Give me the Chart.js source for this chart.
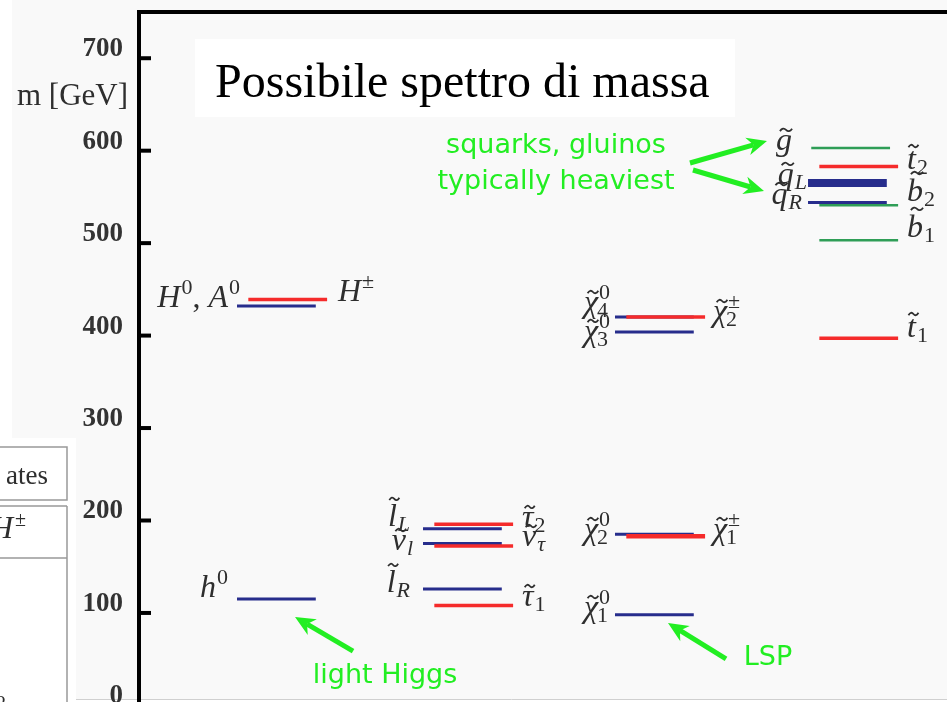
<!DOCTYPE html>
<html>
<head>
<meta charset="utf-8">
<script src="https://cdn.jsdelivr.net/npm/chart.js@4.4.1/dist/chart.umd.min.js"></script>
<style>
  html, body { margin: 0; padding: 0; overflow: hidden; background: #fff; }
  #wrap { width: 947px; height: 720px; }
</style>
</head>
<body>
<div id="wrap"><canvas id="spectrum" width="947" height="720"></canvas></div>
<script>
// mass levels in GeV, grouped by the colour they have in the plot
const columns = ['Higgs', 'Sleptons', 'Gauginos', 'Squarks']
const blueNames = ['h0', 'H0A0', 'lL', 'nul', 'lR', 'chi10', 'chi20', 'chi30', 'chi40', 'qL', 'qR']
const blueMasses = [115, 432, 191, 175, 126, 98, 185, 404, 420, 565, 544]
const blueColumns = [0, 0, 1, 1, 1, 2, 2, 2, 2, 3, 3]
const redNames = ['Hpm', 'tau2', 'nutau', 'tau1', 'chi1pm', 'chi2pm', 't2', 't1']
const redMasses = [439, 196, 172.5, 108, 183, 420, 583, 397]
const redColumns = [0, 1, 1, 1, 2, 2, 3, 3]
const greenNames = ['gluino', 'b2', 'b1']
const greenMasses = [603, 541, 503]
const greenColumns = [3, 3, 3]
const yTicks = [0, 100, 200, 300, 400, 500, 600, 700]

// layout + style (x is in column units, 0..10 across the plot)
const COL_START = [1.213, 3.515, 5.891, 8.28]
const BAR_W = 0.975
const GREEN = '#22ee22'
const INK = '#2e2e2e'
const SERIES = {
  blue: { color: '#272d8c', width: 3, shift: 0, order: 3 },
  red: { color: '#f52b2b', width: 3.5, shift: 0.14, order: 2 },
  green: { color: '#2f9e57', width: 2.5, shift: 0.14, order: 1 },
}
const THICK = { qL: 8, chi1pm: 4.5 }
const SHIFT = { gluino: 0.04 }

function levels(names, masses, cols, s) {
  return names.map((n, i) => {
    const x0 = COL_START[cols[i]] + (n in SHIFT ? SHIFT[n] : s.shift)
    return {
      label: n,
      data: [{ x: x0, y: masses[i] }, { x: x0 + BAR_W, y: masses[i] }],
      borderColor: s.color,
      borderWidth: THICK[n] || s.width,
      borderCapStyle: 'butt',
      pointRadius: 0,
      order: s.order,
    }
  })
}

// math labels: b = italic base, tl = tilde, sp = superscript, sb = subscript, rm = roman text
const LABELS = [
  { at: [1.25, 430.9], align: 'right', math: [{ b: 'H', sp: '0' }, { rm: ', ' }, { b: 'A', sp: '0' }] },
  { at: [1.10, 117.3], align: 'right', math: [{ b: 'h', sp: '0' }] },
  { at: [2.463, 437.4], align: 'left', math: [{ b: 'H', sp: '±' }] },
  { at: [3.354, 194.1], align: 'right', math: [{ b: 'l', tl: true, sb: 'L' }] },
  { at: [3.391, 168.1], align: 'right', math: [{ b: 'ν', tl: true, sb: 'l' }] },
  { at: [3.354, 122.7], align: 'right', math: [{ b: 'l', tl: true, sb: 'R' }] },
  { at: [4.74, 193], align: 'left', math: [{ b: 'τ', tl: true, sb: '2' }] },
  { at: [4.74, 172.4], align: 'left', math: [{ b: 'ν', tl: true, sb: 'τ' }] },
  { at: [4.74, 107.5], align: 'left', math: [{ b: 'τ', tl: true, sb: '1' }] },
  { at: [5.829, 425.5], align: 'right', math: [{ b: 'χ', tl: true, sp: '0', sb: '4' }] },
  { at: [5.829, 394.2], align: 'right', math: [{ b: 'χ', tl: true, sp: '0', sb: '3' }] },
  { at: [5.829, 180], align: 'right', math: [{ b: 'χ', tl: true, sp: '0', sb: '2' }] },
  { at: [5.829, 95.6], align: 'right', math: [{ b: 'χ', tl: true, sp: '0', sb: '1' }] },
  { at: [7.104, 415.8], align: 'left', math: [{ b: 'χ', tl: true, sp: '±', sb: '2' }] },
  { at: [7.104, 180], align: 'left', math: [{ b: 'χ', tl: true, sp: '±', sb: '1' }] },
  { at: [8.082, 600.8], align: 'right', math: [{ b: 'g', tl: true }] },
  { at: [8.267, 564], align: 'right', math: [{ b: 'q', tl: true, sb: 'L' }] },
  { at: [8.205, 542.3], align: 'right', math: [{ b: 'q', tl: true, sb: 'R' }] },
  { at: [9.505, 580.2], align: 'left', math: [{ b: 't', tl: true, sb: '2' }] },
  { at: [9.505, 545.6], align: 'left', math: [{ b: 'b', tl: true, sb: '2' }] },
  { at: [9.505, 506.7], align: 'left', math: [{ b: 'b', tl: true, sb: '1' }] },
  { at: [9.505, 398.5], align: 'left', math: [{ b: 't', tl: true, sb: '1' }] },
]

const NOTES = [
  { at: [5.161, 597.1], text: 'squarks, gluinos' },
  { at: [5.161, 558.2], text: 'typically heaviest' },
  { at: [3.045, 24.2], text: 'light Higgs' },
  { at: [7.785, 43.7], text: 'LSP' },
]
const ARROWS = [
  { from: [6.819, 586.7], to: [7.772, 610.5] },
  { from: [6.856, 579.1], to: [7.735, 556.4] },
  { from: [2.649, 58.8], to: [1.931, 95.6] },
  { from: [7.265, 50.2], to: [6.547, 89.1] },
]

const BASE = 'italic 32px "Liberation Serif"'
const ROMAN = '32px "Liberation Serif"'
const smallFont = t => /^[0-9±]+$/.test(t) ? '22px "Liberation Serif"' : 'italic 22px "Liberation Serif"'

function pieceWidth(ctx, p) {
  if (p.rm) { ctx.font = ROMAN; return ctx.measureText(p.rm).width }
  ctx.font = BASE
  const w = ctx.measureText(p.b).width
  let s = 0
  if (p.sp) { ctx.font = smallFont(p.sp); s = Math.max(s, ctx.measureText(p.sp).width) }
  if (p.sb) { ctx.font = smallFont(p.sb); s = Math.max(s, ctx.measureText(p.sb).width) }
  return w + (s ? s + 1 : 0)
}

function drawTilde(ctx, x, y, half) {
  ctx.save()
  ctx.strokeStyle = INK
  ctx.lineWidth = 1.8
  ctx.beginPath()
  ctx.moveTo(x - half, y + 1.2)
  ctx.quadraticCurveTo(x - half / 2, y - 3, x, y)
  ctx.quadraticCurveTo(x + half / 2, y + 3, x + half, y - 1.2)
  ctx.stroke()
  ctx.restore()
}

function drawMath(ctx, x, y, pieces, align) {
  const total = pieces.reduce((a, p) => a + pieceWidth(ctx, p), 0)
  let cx = align === 'right' ? x - total : x
  ctx.fillStyle = INK
  ctx.textAlign = 'left'
  ctx.textBaseline = 'alphabetic'
  pieces.forEach(p => {
    const w = pieceWidth(ctx, p)
    if (p.rm) {
      ctx.font = ROMAN
      ctx.fillText(p.rm, cx, y)
      cx += w
      return
    }
    ctx.font = BASE
    const m = ctx.measureText(p.b)
    ctx.fillText(p.b, cx, y)
    if (p.tl) drawTilde(ctx, cx + m.width / 2 + 2, y - m.actualBoundingBoxAscent - 5, Math.max(5, m.width * 0.38))
    const bw = m.width + 1
    if (p.sp) { ctx.font = smallFont(p.sp); ctx.fillText(p.sp, cx + bw, y - 13) }
    if (p.sb) { ctx.font = smallFont(p.sb); ctx.fillText(p.sb, cx + bw - (p.sp ? 2 : 0), y + 5) }
    cx += w
  })
}

function arrow(ctx, x0, y0, x1, y1) {
  const a = Math.atan2(y1 - y0, x1 - x0)
  const L = 20, W = 9
  const c = Math.cos(a), s = Math.sin(a)
  ctx.strokeStyle = GREEN
  ctx.fillStyle = GREEN
  ctx.lineWidth = 5
  ctx.beginPath()
  ctx.moveTo(x0, y0)
  ctx.lineTo(x1 - L * 0.7 * c, y1 - L * 0.7 * s)
  ctx.stroke()
  ctx.beginPath()
  ctx.moveTo(x1, y1)
  ctx.lineTo(x1 - L * c + W * s, y1 - L * s - W * c)
  ctx.lineTo(x1 - L * 0.7 * c, y1 - L * 0.7 * s)
  ctx.lineTo(x1 - L * c - W * s, y1 - L * s + W * c)
  ctx.closePath()
  ctx.fill()
}

// slide backdrop: grey page, white margin, the clipped table at the left
const backdrop = {
  id: 'backdrop',
  beforeDraw(chart) {
    const ctx = chart.ctx
    ctx.save()
    ctx.fillStyle = '#f9f9f9'
    ctx.fillRect(0, 0, chart.width, chart.height)
    ctx.fillStyle = '#fff'
    ctx.fillRect(0, 0, 12, chart.height)
    ctx.fillRect(0, 438, 76, chart.height)
    ctx.fillRect(0, 700, chart.width, 30)
    ctx.strokeStyle = '#d0d0d0'
    ctx.lineWidth = 1
    ctx.beginPath(); ctx.moveTo(76, 699.5); ctx.lineTo(chart.width, 699.5); ctx.stroke()
    // table fragment
    ctx.strokeStyle = '#999'
    ctx.lineWidth = 1.5
    ctx.strokeRect(-5, 447, 72, 53)
    ctx.beginPath()
    ctx.moveTo(-5, 506); ctx.lineTo(67, 506)
    ctx.moveTo(67, 506); ctx.lineTo(67, 720)
    ctx.moveTo(-5, 558); ctx.lineTo(67, 558)
    ctx.stroke()
    ctx.fillStyle = INK
    ctx.font = '27px "Liberation Serif"'
    ctx.textAlign = 'right'
    ctx.fillText('ates', 48, 484)
    ctx.textAlign = 'left'
    ctx.font = BASE
    ctx.fillText('H', -10, 538)
    ctx.font = '20px "Liberation Serif"'
    ctx.fillText('±', 15, 526)
    ctx.fillText('2', -4, 710)
    ctx.restore()
  },
  afterDraw(chart) {
    const ctx = chart.ctx
    const xs = chart.scales.x, ys = chart.scales.y
    const area = chart.chartArea
    ctx.save()
    // inward tick marks
    ctx.strokeStyle = '#000'
    ctx.lineWidth = 4
    ys.ticks.forEach(t => {
      const py = ys.getPixelForValue(t.value)
      ctx.beginPath(); ctx.moveTo(area.left, py); ctx.lineTo(area.left + 12, py); ctx.stroke()
    })
    // axis title
    ctx.fillStyle = INK
    ctx.font = '31px "Liberation Serif"'
    ctx.textAlign = 'right'
    ctx.textBaseline = 'alphabetic'
    ctx.fillText('m [GeV]', 128, 105)
    // title box
    ctx.fillStyle = '#fff'
    ctx.fillRect(195, 39, 540, 78)
    ctx.fillStyle = '#000'
    ctx.font = '48px "Liberation Serif"'
    ctx.textAlign = 'left'
    ctx.fillText('Possibile spettro di massa', 215, 97)
    // particle labels
    LABELS.forEach(l => drawMath(ctx, xs.getPixelForValue(l.at[0]), ys.getPixelForValue(l.at[1]), l.math, l.align))
    // green notes and arrows
    ctx.fillStyle = GREEN
    ctx.font = '27px "DejaVu Sans"'
    ctx.textAlign = 'center'
    NOTES.forEach(n => ctx.fillText(n.text, xs.getPixelForValue(n.at[0]), ys.getPixelForValue(n.at[1])))
    ARROWS.forEach(a => arrow(ctx,
      xs.getPixelForValue(a.from[0]), ys.getPixelForValue(a.from[1]),
      xs.getPixelForValue(a.to[0]), ys.getPixelForValue(a.to[1])))
    ctx.restore()
  },
}

const datasets = [
  ...levels(blueNames, blueMasses, blueColumns, SERIES.blue),
  ...levels(redNames, redMasses, redColumns, SERIES.red),
  ...levels(greenNames, greenMasses, greenColumns, SERIES.green),
]

const spectrumChart = new Chart(document.getElementById('spectrum').getContext('2d'), {
  type: 'line',
  data: { datasets },
  options: {
    responsive: false,
    animation: false,
    devicePixelRatio: 1,
    layout: { padding: { top: 12, bottom: 14.6, left: 0, right: 0 } },
    plugins: { legend: { display: false }, tooltip: { enabled: false } },
    scales: {
      x: {
        type: 'linear',
        position: 'top',
        min: 0,
        max: columns.length * 2.5,
        ticks: { display: false },
        grid: { display: false, drawTicks: false },
        border: { display: true, color: '#000', width: 4 },
        afterFit: s => { s.height = 0; s.paddingLeft = 0; s.paddingRight = 0 },
      },
      y: {
        type: 'linear',
        min: 0,
        max: 750,
        afterBuildTicks: s => { s.ticks = yTicks.map(v => ({ value: v })) },
        ticks: {
          color: '#333',
          font: { family: 'Liberation Serif', size: 27, weight: 'bold', lineHeight: 1 },
          padding: 16,
          labelOffset: -9,
        },
        grid: { display: false, drawTicks: false },
        border: { display: true, color: '#000', width: 4 },
        afterFit: s => { s.width = 139; s.paddingTop = 0; s.paddingBottom = 0 },
      },
    },
  },
  plugins: [backdrop],
})
</script>
</body>
</html>
